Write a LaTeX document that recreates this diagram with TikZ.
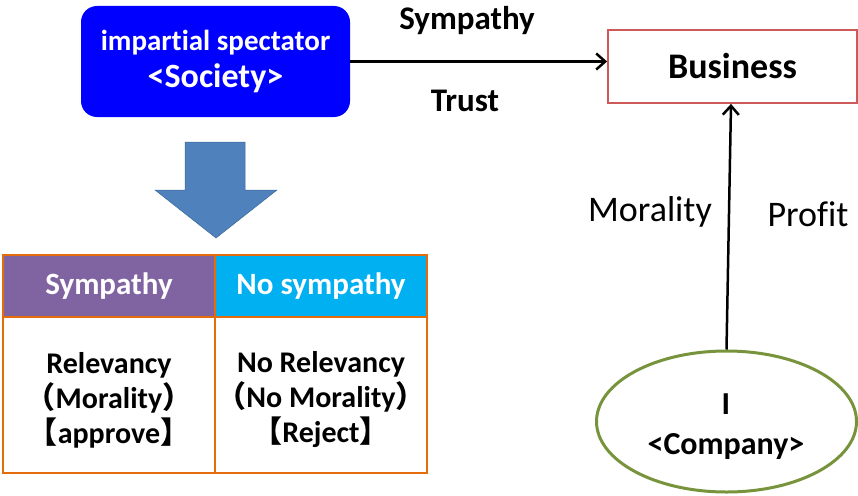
\documentclass[tikz,border=0pt]{standalone}
\usepackage{fontspec}
\setmainfont{Carlito}[Ligatures=NoCommon]
\newfontfamily\cjk{Noto Sans CJK JP}
\usetikzlibrary{arrows.meta,shapes.geometric}
\definecolor{boxblue}{RGB}{0,0,255}
\definecolor{bizred}{RGB}{204,90,90}
\definecolor{ellgreen}{RGB}{119,147,60}
\definecolor{tblorange}{RGB}{228,108,10}
\definecolor{hdpurple}{RGB}{128,100,162}
\definecolor{hdcyan}{RGB}{0,176,240}
\definecolor{bigarrow}{RGB}{79,129,189}
\tikzset{
  lbl/.style={inner sep=0pt, font=\fontsize{33}{35}\selectfont\bfseries},
  plainlbl/.style={inner sep=0pt, font=\fontsize{36}{38}\selectfont},
  hdcell/.style={draw=tblorange, line width=2.5pt, minimum width=212pt, minimum height=62pt, inner sep=0pt, text=white, font=\fontsize{31}{33}\selectfont\bfseries},
  bodycell/.style={draw=tblorange, line width=2.5pt, minimum width=212pt, minimum height=156pt, inner sep=0pt},
  bodytext/.style={inner sep=0pt, align=center, font=\fontsize{30}{35}\selectfont\bfseries},
  conn/.style={line width=2.5pt, -{Straight Barb[length=9pt,width=16pt,line width=2.5pt]}},
}
\begin{document}
\begin{tikzpicture}[x=1pt,y=-1pt]
\useasboundingbox (0,0) rectangle (858,495);
% society box
\node[fill=boxblue, rounded corners=16pt, minimum width=269pt, minimum height=111pt, inner sep=0pt, text=white, align=center, font=\fontsize{29}{37}\selectfont\bfseries] (soc) at (215.5,61.5)
  {impartial spectator\\{\fontsize{34}{37}\selectfont <Society>}};
% business box
\node[draw=bizred, line width=1.8pt, minimum width=249pt, minimum height=73pt, inner sep=0pt, font=\fontsize{36}{38}\selectfont\bfseries] (biz) at (732.5,66.5) {Business};
% company ellipse
\node[ellipse, draw=ellgreen, line width=3pt, minimum width=260pt, minimum height=141pt, inner sep=0pt] (comp) at (726.5,421.5) {};
\node[inner sep=0pt, align=center, font=\fontsize{32}{40}\selectfont\bfseries] (comptxt) at (726,427) {I\\<Company>};
% connectors
\draw[conn] (soc.east) -- (soc.east -| biz.west);
\coordinate (bizin) at (731,0 |- biz.south);
\draw[conn] (comp.north) -- (bizin);
% labels
\node[lbl] (lsym) at (467,21) {Sympathy};
\node[lbl] (ltrust) at (465,101) {Trust};
\node[plainlbl] (lmor) at (650,212) {Morality};
\node[plainlbl] (lprof) at (808,214) {Profit};
% big arrow
\path[fill=bigarrow, draw=bigarrow!80!black, line width=0.5pt]
  (185,142) coordinate (ba1) -- (245,142) -- (245,190) -- (277,190) -- (216,238) coordinate (batip) -- (155,190) -- (185,190) -- cycle;
% table
\node[hdcell, fill=hdpurple] (h1) at (109,286) {Sympathy};
\node[hdcell, fill=hdcyan] (h2) at (321,286) {No sympathy};
\node[bodycell] (b1) at (109,395) {};
\node[bodycell] (b2) at (321,395) {};
\node[bodytext] (b1t) at (109,400) {Relevancy\\{\cjk （}Morality{\cjk ）}\\{\cjk 【}approve{\cjk 】}};
\node[bodytext] (b2t) at (321,400) {No Relevancy\\{\cjk （}No Morality{\cjk ）}\\{\cjk 【}Reject{\cjk 】}};
\end{tikzpicture}
\end{document}
